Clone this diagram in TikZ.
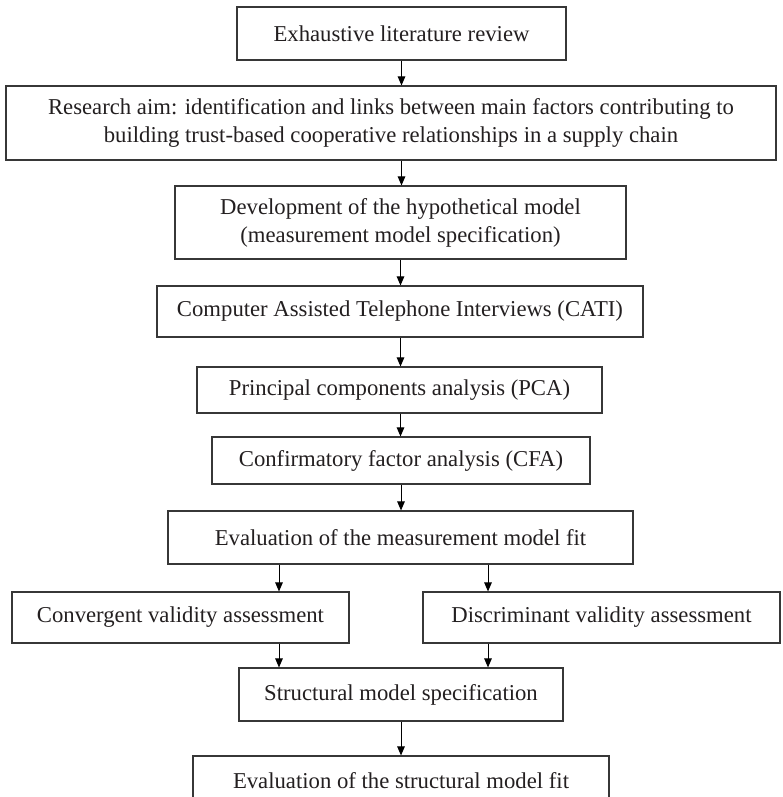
\documentclass[tikz,border=0pt]{standalone}
\usepackage{fontspec}
\setmainfont{Liberation Serif}
\usetikzlibrary{arrows.meta}

\begin{document}
\begin{tikzpicture}[x=1pt, y=-1pt, >={Triangle[length=9pt, width=7.5pt]}]
  % Clip the scene to the page, the last box runs off the bottom
  \clip (0,0) rectangle (783,797);

  % ==========================================
  % 1. COLORS & STYLES
  % ==========================================
  \definecolor{boxLine}{RGB}{55, 55, 55}  % box outlines
  \definecolor{textGray}{RGB}{35, 31, 32} % labels

  \tikzset{
    stepbox/.style={
      draw=boxLine, line width=1.1pt, text=textGray, align=center,
      inner sep=0pt, font=\fontsize{22.7}{28}\selectfont
    },
    flow/.style={->, line width=1pt, draw=black}
  }

  % ==========================================
  % 2. MAIN COLUMN
  % ==========================================
  \node[stepbox, minimum width=329pt, minimum height=53pt] (review) at (401.5, 33.5)
    {Exhaustive literature review};
  \node[stepbox, minimum width=770pt, minimum height=74pt] (aim) at (391, 123)
    {Research aim: identification and links between main factors contributing to\\
     building trust-based cooperative relationships in a supply chain};
  \node[stepbox, minimum width=451pt, minimum height=73pt] (model) at (400.5, 222.5)
    {Development of the hypothetical model\\(measurement model specification)};
  \node[stepbox, minimum width=486pt, minimum height=51pt] (cati) at (400, 311.5)
    {Computer Assisted Telephone Interviews (CATI)};
  \node[stepbox, minimum width=405pt, minimum height=46pt] (pca) at (399.5, 390)
    {Principal components analysis (PCA)};
  \node[stepbox, minimum width=378pt, minimum height=47pt] (cfa) at (401, 460.5)
    {Confirmatory factor analysis (CFA)};
  \node[stepbox, minimum width=465pt, minimum height=53pt] (evalmeas) at (400.5, 537.5)
    {Evaluation of the measurement model fit};

  % ==========================================
  % 3. VALIDITY BRANCHES
  % ==========================================
  \node[stepbox, minimum width=337pt, minimum height=51pt] (conv) at (180.5, 617.5)
    {Convergent validity assessment};
  \node[stepbox, minimum width=357pt, minimum height=51pt] (discr) at (601.5, 617.5)
    {Discriminant validity assessment};

  \node[stepbox, minimum width=324pt, minimum height=53pt] (struct) at (401, 694.5)
    {Structural model specification};
  \node[stepbox, minimum width=416pt, minimum height=50pt] (evalstruct) at (401, 781)
    {Evaluation of the structural model fit};

  % x positions of the split arrows
  \coordinate (splitL) at (279, 0);
  \coordinate (splitR) at (488, 0);

  % ==========================================
  % 4. ARROWS
  % ==========================================
  \draw[flow] (review.south) -- (review.south |- aim.north);
  \draw[flow] (review.south |- aim.south) -- (review.south |- model.north);
  \draw[flow] (model.south) -- (model.south |- cati.north);
  \draw[flow] (model.south |- cati.south) -- (model.south |- pca.north);
  \draw[flow] (model.south |- pca.south) -- (model.south |- cfa.north);
  \draw[flow] (cfa.south) -- (cfa.south |- evalmeas.north);

  \draw[flow] (evalmeas.south -| splitL) -- (conv.north -| splitL);
  \draw[flow] (evalmeas.south -| splitR) -- (discr.north -| splitR);
  \draw[flow] (conv.south -| splitL) -- (struct.north -| splitL);
  \draw[flow] (discr.south -| splitR) -- (struct.north -| splitR);

  \draw[flow] (struct.south) -- (evalstruct.north);

\end{tikzpicture}
\end{document}
